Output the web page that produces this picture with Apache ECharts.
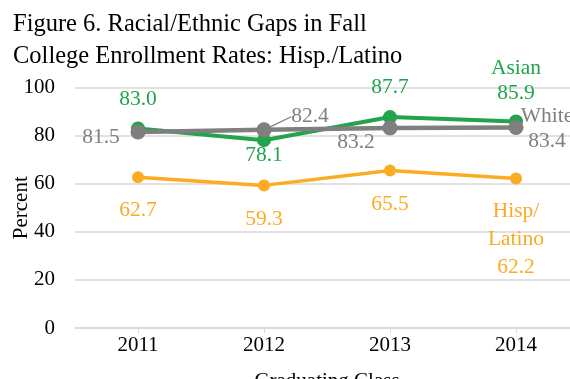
<!DOCTYPE html>
<html>
<head>
<meta charset="utf-8">
<script src="https://cdn.jsdelivr.net/npm/echarts@6/dist/echarts.min.js"></script>
<style>
  html, body { margin: 0; padding: 0; background: #fff; }
  #chart { width: 570px; height: 379px; }
</style>
</head>
<body>
<div id="chart"></div>
<script>
// Graduating classes and fall college enrollment rates (percent)
const years = ['2011', '2012', '2013', '2014'];
const asian = [83.0, 78.1, 87.7, 85.9];
const white = [81.5, 82.4, 83.2, 83.4];
const hispLatino = [62.7, 59.3, 65.5, 62.2];
const yTicks = { min: 0, max: 100, step: 20 };

const FONT = 'Liberation Serif';
const GREEN = '#23a34b';
const GRAY = '#7f7f7f';
const ORANGE = '#fbac23';

// Per-point label placement: offset from the marker centre
function labelled(values, color, opts) {
  return values.map((v, i) => {
    const o = opts[i];
    const item = {
      value: v,
      label: {
        show: true,
        position: 'inside',
        align: 'center',
        verticalAlign: 'middle',
        offset: o.offset,
        color: color,
        fontFamily: FONT,
        fontSize: 21.5,
        lineHeight: o.lineHeight || 24,
        formatter: (o.prefix || '') + v.toFixed(1)
      }
    };
    if (o.guide) {
      item.labelLine = { show: true };
    }
    return item;
  });
}

const chart = echarts.init(document.getElementById('chart'), null, { renderer: 'canvas' });

chart.setOption({
  animation: false,
  backgroundColor: '#ffffff',
  title: {
    text: 'Figure 6. Racial/Ethnic Gaps in Fall\nCollege Enrollment Rates: Hisp./Latino',
    left: 8,
    top: 4,
    textStyle: {
      fontFamily: FONT,
      fontSize: 24.5,
      fontWeight: 'normal',
      color: '#000',
      lineHeight: 32
    }
  },
  grid: { left: 75, top: 87.5, width: 504, height: 240.5, outerBoundsMode: 'none', containLabel: false },
  xAxis: {
    type: 'category',
    data: years,
    boundaryGap: true,
    name: 'Graduating Class',
    nameLocation: 'middle',
    nameGap: 43,
    nameMoveOverlap: false,
    nameTextStyle: { fontFamily: FONT, fontSize: 21, color: '#000' },
    axisLine: { lineStyle: { color: '#d9d9d9', width: 1.5 } },
    axisTick: { show: true, alignWithLabel: true, length: 5, lineStyle: { color: '#d9d9d9' } },
    axisLabel: { fontFamily: FONT, fontSize: 21, color: '#000', margin: 7 }
  },
  yAxis: {
    type: 'value',
    min: yTicks.min,
    max: yTicks.max,
    interval: yTicks.step,
    name: 'Percent',
    nameLocation: 'middle',
    nameGap: 43,
    nameRotate: 90,
    nameMoveOverlap: false,
    nameTextStyle: { fontFamily: FONT, fontSize: 21, color: '#000' },
    axisLine: { show: false },
    axisTick: { show: false },
    axisLabel: { fontFamily: FONT, fontSize: 21, color: '#000', margin: 20 },
    splitLine: { lineStyle: { color: '#d9d9d9', width: 1.5 } }
  },
  series: [
    {
      name: 'Asian',
      type: 'line',
      symbol: 'circle',
      symbolSize: 14,
      lineStyle: { color: GREEN, width: 4 },
      itemStyle: { color: GREEN },
      data: labelled(asian, GREEN, [
        { offset: [0, -29] },
        { offset: [0, 15] },
        { offset: [0, -29.5] },
        { offset: [0, -41], prefix: 'Asian\n', lineHeight: 25 }
      ])
    },
    {
      name: 'Hisp/Latino',
      type: 'line',
      symbol: 'circle',
      symbolSize: 12,
      lineStyle: { color: ORANGE, width: 3.5 },
      itemStyle: { color: ORANGE },
      data: labelled(hispLatino, ORANGE, [
        { offset: [0, 33] },
        { offset: [0, 34] },
        { offset: [0, 34] },
        { offset: [0, 61], prefix: 'Hisp/\nLatino\n', lineHeight: 28 }
      ])
    },
    {
      name: 'White',
      type: 'line',
      symbol: 'circle',
      symbolSize: 15,
      lineStyle: { color: GRAY, width: 4.5 },
      itemStyle: { color: GRAY },
      labelLine: { lineStyle: { color: GRAY, width: 1.2 } },
      data: labelled(white, GRAY, [
        { offset: [-37, 5] },
        { offset: [46, -13], guide: true },
        { offset: [-34, 14.5] },
        { offset: [31, 1.5], prefix: 'White\n', lineHeight: 25 }
      ])
    }
  ]
});
</script>
</body>
</html>
